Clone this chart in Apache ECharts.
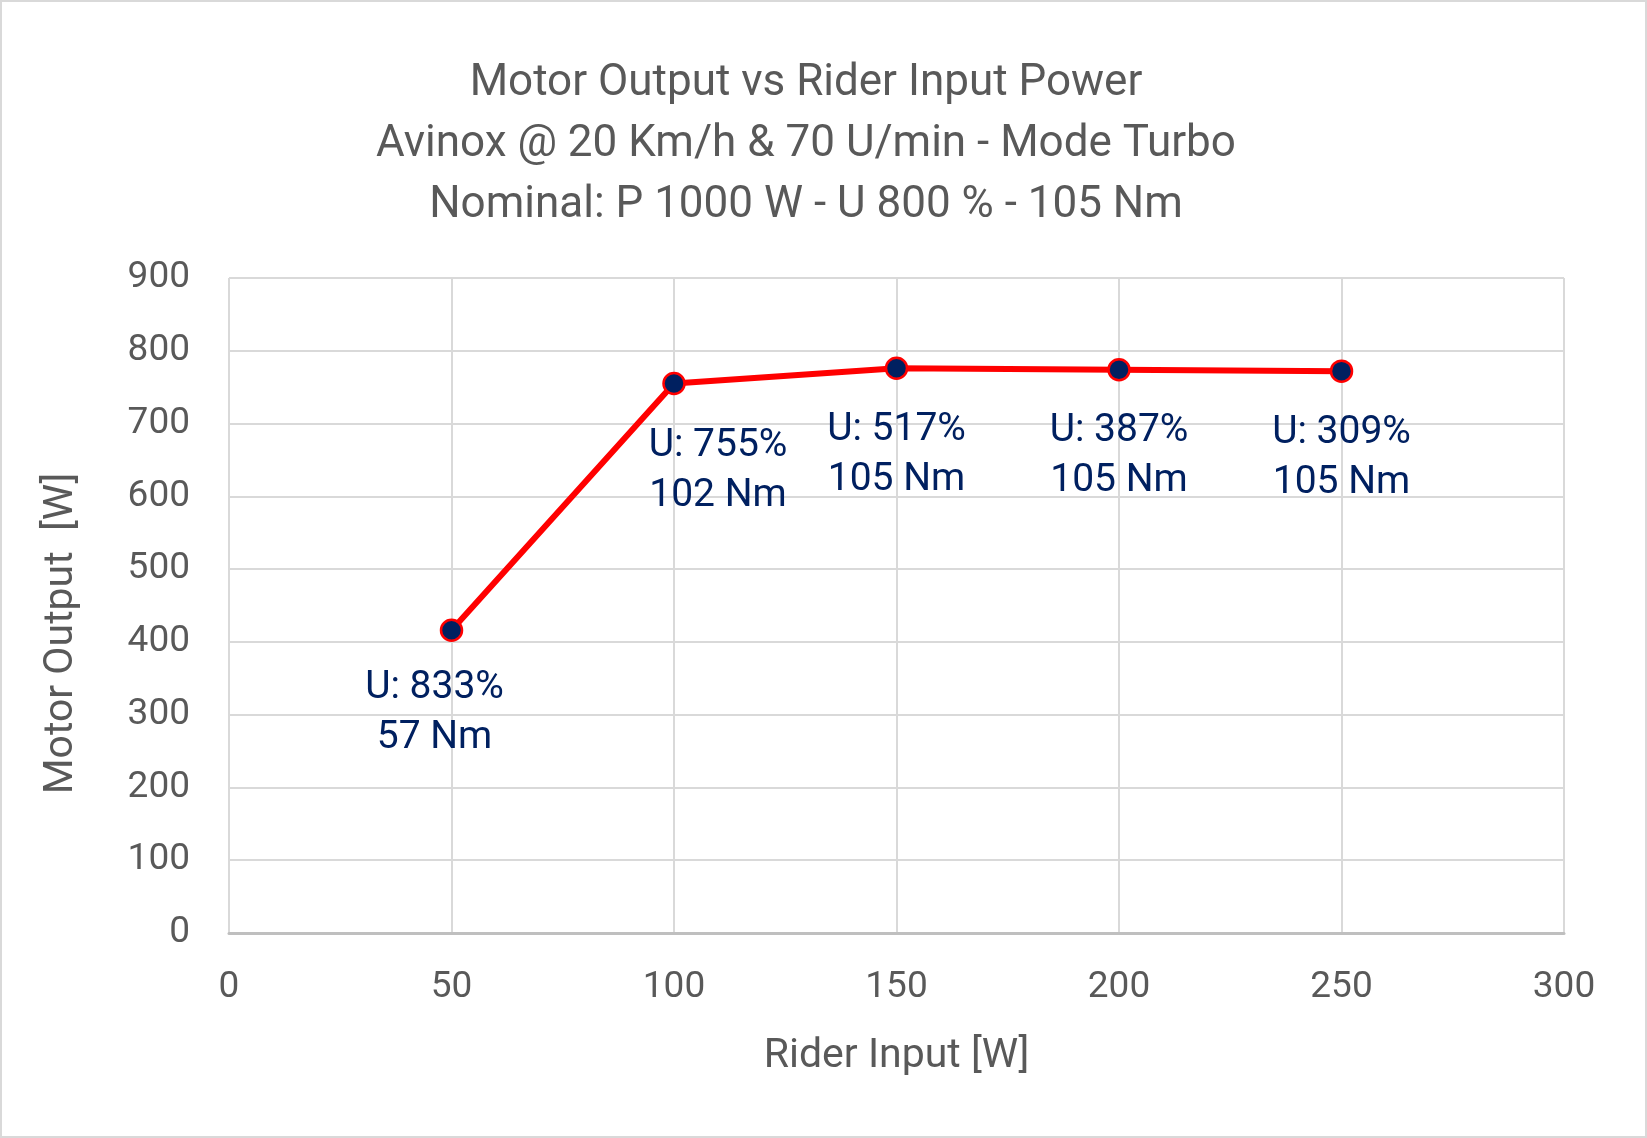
<!DOCTYPE html>
<html>
<head>
<meta charset="utf-8">
<script src="https://cdn.jsdelivr.net/npm/echarts@6/dist/echarts.min.js"></script>
<style>
  html, body { margin: 0; padding: 0; background: #fff; }
  #main { width: 1647px; height: 1138px; }
</style>
</head>
<body>
<div id="main"></div>
<script>
// data
var riderInput = [50, 100, 150, 200, 250];
var motorOutput = [416, 755, 776, 774, 772];
var utilisation = [833, 755, 517, 387, 309];
var torque = [57, 102, 105, 105, 105];
var xTicks = [0, 50, 100, 150, 200, 250, 300];
var yTicks = [0, 100, 200, 300, 400, 500, 600, 700, 800, 900];

// label nudges (px) so the annotations sit where the original ones were
var labelShift = [[-17, 83], [44, 88], [0, 87], [0, 87], [0, 87]];

var FONT = 'Roboto, "Noto Sans", sans-serif';
var GREY = '#595959';

var points = riderInput.map(function (x, i) {
  return {
    value: [x, motorOutput[i]],
    label: { offset: labelShift[i] }
  };
});

var chart = echarts.init(document.getElementById('main'));
var option = {
  backgroundColor: '#fff',
  textStyle: { fontFamily: FONT },
  title: {
    text: 'Motor Output vs Rider Input Power\nAvinox @ 20 Km/h & 70 U/min - Mode Turbo\nNominal: P 1000 W - U 800 % - 105 Nm',
    left: 801,
    top: 48,
    textAlign: 'center',
    textStyle: {
      fontFamily: FONT,
      fontSize: 44,
      lineHeight: 61,
      fontWeight: 'normal',
      color: GREY
    }
  },
  graphic: [{
    type: 'rect',
    shape: { x: 1, y: 1, width: 1645, height: 1136 },
    style: { fill: 'none', stroke: '#d9d9d9', lineWidth: 2 },
    silent: true
  }],
  grid: { left: 229, right: 83, top: 278, bottom: 205 },
  xAxis: {
    type: 'value',
    min: xTicks[0],
    max: xTicks[xTicks.length - 1],
    interval: xTicks[1] - xTicks[0],
    name: 'Rider Input [W]',
    nameLocation: 'middle',
    nameGap: 103,
    nameTextStyle: { fontSize: 41, color: GREY, fontFamily: FONT },
    axisLine: { show: true, lineStyle: { color: '#bfbfbf', width: 3 } },
    axisTick: { show: false },
    axisLabel: { fontSize: 37, color: GREY, margin: 36, fontFamily: FONT },
    splitLine: { show: true, lineStyle: { color: '#d9d9d9', width: 2 } }
  },
  yAxis: {
    type: 'value',
    min: yTicks[0],
    max: yTicks[yTicks.length - 1],
    interval: yTicks[1] - yTicks[0],
    name: 'Motor Output  [W]',
    nameLocation: 'middle',
    nameGap: 147,
    nameRotate: 90,
    nameTextStyle: { fontSize: 41, color: GREY, fontFamily: FONT, padding: [0, 56, 0, 0] },
    axisLine: { show: false },
    axisTick: { show: false },
    axisLabel: { fontSize: 37, color: GREY, margin: 39, fontFamily: FONT },
    splitLine: { show: true, lineStyle: { color: '#d9d9d9', width: 2 } }
  },
  series: [{
    type: 'line',
    data: points,
    lineStyle: { color: '#ff0000', width: 6 },
    symbol: 'circle',
    symbolSize: 21,
    itemStyle: { color: '#002060', borderColor: '#ff0000', borderWidth: 2.5 },
    label: {
      show: true,
      position: 'inside',
      align: 'center',
      verticalAlign: 'middle',
      fontSize: 39,
      lineHeight: 50,
      color: '#002060',
      fontFamily: FONT,
      formatter: function (p) {
        return 'U: ' + utilisation[p.dataIndex] + '%\n' + torque[p.dataIndex] + ' Nm';
      }
    },
    emphasis: { disabled: true },
    z: 3
  }]
};
chart.setOption(option);
</script>
</body>
</html>
